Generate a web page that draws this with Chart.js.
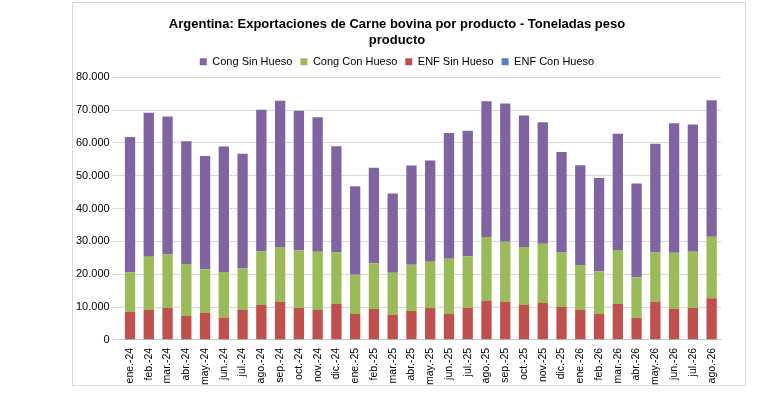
<!DOCTYPE html><html><head><script src="https://cdn.jsdelivr.net/npm/chart.js@4"></script>
<style>body{margin:0;background:#fff}#w{position:absolute;left:72px;top:2px;width:672px;height:382px;border:1px solid #d9d9d9}</style></head><body>
<div id="w"><canvas id="c"></canvas></div>
<script>
const categories=["ene.-24","feb.-24","mar.-24","abr.-24","may.-24","jun.-24","jul.-24","ago.-24","sep.-24","oct.-24","nov.-24","dic.-24","ene.-25","feb.-25","mar.-25","abr.-25","may.-25","jun.-25","jul.-25","ago.-25","sep.-25","oct.-25","nov.-25","dic.-25","ene.-26","feb.-26","mar.-26","abr.-26","may.-26","jun.-26","jul.-26","ago.-26"];
const enfSin=[8500,9100,9700,7300,8200,6700,9100,10600,11500,9700,9100,10900,7900,9400,7600,8800,9700,7900,9700,11800,11500,10600,11200,10000,9100,7900,10900,6700,11500,9400,9700,12700];
const enfCon=new Array(32).fill(0);
const congCon=[12000,16200,16300,15800,13300,14000,12600,16400,16800,17500,17700,15700,11900,13900,12800,14100,14100,16800,15800,19500,18400,17700,18100,16600,13700,13000,16500,12400,15100,17100,17100,18700];
const congSin=[41300,43900,42000,37400,34500,38200,35000,43100,44500,42600,41000,32400,27000,29100,24200,30200,30800,38300,38200,41400,42100,40000,37000,30600,30400,28400,35400,28500,33100,39500,38800,41600];
Chart.defaults.font.family="Liberation Sans";Chart.defaults.color="#000";
const legendOrder=[3,2,0,1];
new Chart(document.getElementById('c'),{type:'bar',data:{labels:categories,datasets:[
{label:'ENF Sin Hueso',data:enfSin,backgroundColor:'#c0504d'},
{label:'ENF Con Hueso',data:enfCon,backgroundColor:'#4f81bd'},
{label:'Cong Con Hueso',data:congCon,backgroundColor:'#9bbb59'},
{label:'Cong Sin Hueso',data:congSin,backgroundColor:'#8064a2'}]},
options:{responsive:true,maintainAspectRatio:false,animation:false,
layout:{padding:{left:0,right:24,top:14,bottom:0}},
datasets:{bar:{categoryPercentage:1,barPercentage:0.55}},
plugins:{title:{display:true,text:['Argentina: Exportaciones de Carne bovina por producto - Toneladas peso','producto'],font:{size:13,weight:'bold'},padding:{top:0,bottom:0}},
legend:{labels:{boxWidth:7,boxHeight:7,font:{size:11},padding:8,sort:(a,b)=>legendOrder.indexOf(a.datasetIndex)-legendOrder.indexOf(b.datasetIndex)}},tooltip:{enabled:false}},
scales:{x:{stacked:true,grid:{display:false},ticks:{maxRotation:90,minRotation:90,padding:0,font:{size:10.5}}},
y:{stacked:true,min:0,max:80000,ticks:{stepSize:10000,font:{size:11},callback:v=>v.toLocaleString('de-DE')},grid:{color:'#d9d9d9'},border:{display:false}}}}});
</script></body></html>
